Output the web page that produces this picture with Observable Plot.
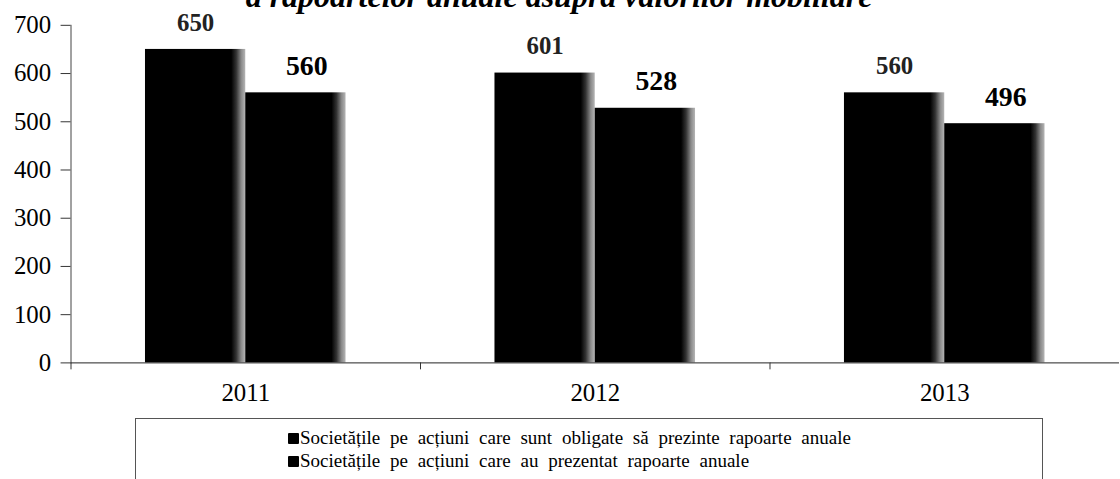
<!DOCTYPE html>
<html>
<head>
<meta charset="utf-8">
<script src="https://cdn.jsdelivr.net/npm/d3@7"></script>
<script src="https://cdn.jsdelivr.net/npm/@observablehq/plot@0.6"></script>
<style>
  html, body { margin: 0; padding: 0; background: #fff; overflow: hidden; width: 1120px; height: 479px; }
  #wrap { position: relative; width: 1120px; height: 479px; overflow: hidden; }
  #title { position: absolute; left: 0; top: -20px; width: 1118px; text-align: center;
    font-family: "Liberation Serif", "Times New Roman", serif; font-weight: bold; font-style: italic;
    font-size: 32px; line-height: 32px; color: #000; z-index: 2; white-space: nowrap; }
  #chart { position: absolute; left: 0; top: 0; }
  #legend { position: absolute; left: 135px; top: 418px; width: 908px; height: 80px;
    border: 1px solid #555; border-bottom: none; box-sizing: border-box;
    padding-top: 7px; padding-left: 152px;
    font-family: "Liberation Serif", "Times New Roman", serif; font-size: 19px; line-height: 23px;
    word-spacing: 5px; color: #000; white-space: nowrap; }
  .sw { display: inline-block; width: 11px; height: 11px; background: #000; border-radius: 1px; margin-right: 1px; vertical-align: 0px; }
</style>
</head>
<body>
<div id="wrap">
  <div id="title">a rapoartelor anuale asupra valorilor mobiliare</div>
  <div id="chart"></div>
  <div id="legend"></div>
</div>
<script>
const years = ["2011", "2012", "2013"];
const seriesNames = [
  "Societățile pe acțiuni care sunt obligate să prezinte rapoarte anuale",
  "Societățile pe acțiuni care au prezentat rapoarte anuale"
];
const obligate = [650, 601, 560];
const prezentat = [560, 528, 496];
const yTicks = [0, 100, 200, 300, 400, 500, 600, 700];

const rows = years.flatMap((yr, i) => [
  {year: yr, series: seriesNames[0], value: obligate[i]},
  {year: yr, series: seriesNames[1], value: prezentat[i]}
]);
const rowsA = rows.filter(d => d.series === seriesNames[0]);
const rowsB = rows.filter(d => d.series === seriesNames[1]);

const chart = Plot.plot({
  width: 1128,
  height: 410,
  marginLeft: 70,
  marginRight: 0,
  marginTop: 25,
  marginBottom: 45,
  style: {fontFamily: "'Liberation Serif', 'Times New Roman', serif", fontSize: "25px", color: "#000", background: "transparent"},
  fx: {domain: years, padding: 0, label: null, axis: null},
  x: {domain: seriesNames, paddingInner: 0, paddingOuter: 0.73, axis: null},
  y: {domain: [0, 700], label: null, axis: null},
  marks: [
    Plot.barY(rows, {fx: "year", x: "series", y: "value", fill: "url(#barGrad)"}),
    Plot.text(rowsA, {fx: "year", x: "series", y: "value", text: d => String(d.value), dy: -27,
      fontWeight: "bold", fontSize: 25, fill: "#222"}),
    Plot.text(rowsB, {fx: "year", x: "series", y: "value", text: d => String(d.value), dy: -27, dx: 11,
      fontWeight: "bold", fontSize: 28, fill: "#000"}),
    Plot.ruleY([0], {stroke: "#222", strokeWidth: 1}),
    Plot.frame({anchor: "left", insetTop: 340, insetBottom: -6, stroke: "#333"}),
    Plot.frame({anchor: "left", facetAnchor: "left", stroke: "#444"}),
    Plot.axisY({ticks: yTicks, tickSize: 10, tickPadding: 10, fontSize: 25, tickFormat: d => String(d), stroke: "#333"}),
    Plot.axisFx({anchor: "bottom", tickSize: 0, tickPadding: 21, fontSize: 25, label: null})
  ]
});

const svg = d3.select(chart.tagName.toLowerCase() === "svg" ? chart : chart.querySelector("svg"));
const defs = svg.insert("defs", ":first-child");
const g = defs.append("linearGradient").attr("id", "barGrad").attr("x1", 0).attr("x2", 1).attr("y1", 0).attr("y2", 0);
[[0, "#000"], [0.86, "#000"], [0.91, "#333"], [0.96, "#8a8a8a"], [1, "#b5b5b5"]].forEach(([o, c]) =>
  g.append("stop").attr("offset", o).attr("stop-color", c));
document.getElementById("chart").appendChild(chart);

const legend = d3.select("#legend");
seriesNames.forEach(name => {
  const line = legend.append("div");
  line.append("span").attr("class", "sw");
  line.append("span").text(name);
});
</script>
</body>
</html>
